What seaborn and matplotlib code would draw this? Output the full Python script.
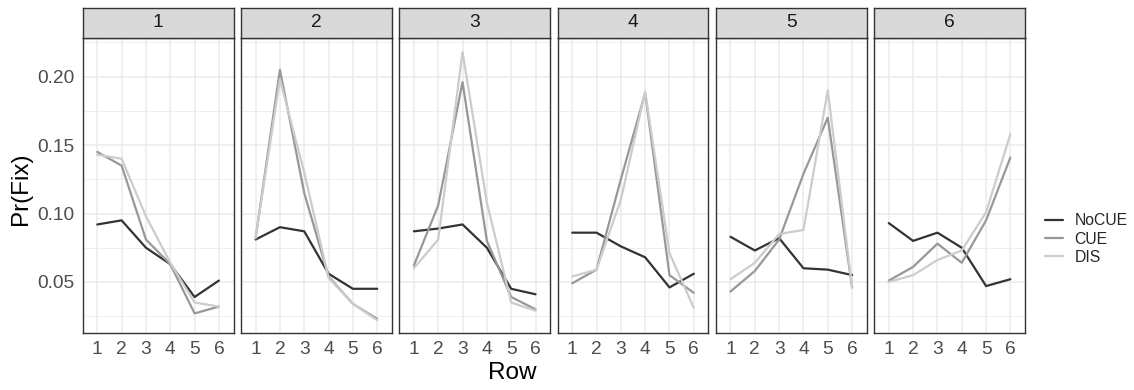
import numpy as np
import pandas as pd
import matplotlib
matplotlib.use("Agg")
import matplotlib.pyplot as plt
from matplotlib.ticker import FixedLocator
from matplotlib.lines import Line2D
import seaborn as sns

sns.set_theme(style="white")
plt.rcParams['font.family'] = ['Liberation Sans', 'DejaVu Sans']

rows = [1, 2, 3, 4, 5, 6]
panels = [1, 2, 3, 4, 5, 6]
conditions = ["NoCUE", "CUE", "DIS"]

nocue = {
    1: [0.092, 0.095, 0.075, 0.063, 0.039, 0.051],
    2: [0.081, 0.090, 0.087, 0.056, 0.045, 0.045],
    3: [0.087, 0.089, 0.092, 0.075, 0.045, 0.041],
    4: [0.086, 0.086, 0.076, 0.068, 0.046, 0.056],
    5: [0.083, 0.073, 0.082, 0.060, 0.059, 0.055],
    6: [0.093, 0.080, 0.086, 0.075, 0.047, 0.052],
}
cue = {
    1: [0.145, 0.135, 0.081, 0.063, 0.027, 0.032],
    2: [0.082, 0.205, 0.115, 0.054, 0.034, 0.023],
    3: [0.062, 0.106, 0.196, 0.080, 0.039, 0.030],
    4: [0.049, 0.059, 0.125, 0.188, 0.055, 0.042],
    5: [0.043, 0.058, 0.081, 0.129, 0.170, 0.046],
    6: [0.051, 0.061, 0.078, 0.064, 0.095, 0.141],
}
dis = {
    1: [0.143, 0.140, 0.098, 0.064, 0.035, 0.032],
    2: [0.082, 0.198, 0.130, 0.053, 0.034, 0.022],
    3: [0.060, 0.081, 0.218, 0.108, 0.035, 0.029],
    4: [0.054, 0.059, 0.110, 0.189, 0.071, 0.031],
    5: [0.052, 0.064, 0.085, 0.088, 0.190, 0.046],
    6: [0.050, 0.055, 0.066, 0.073, 0.101, 0.158],
}

recs = []
for p in panels:
    for cond, src in zip(conditions, [nocue, cue, dis]):
        for r, v in zip(rows, src[p]):
            recs.append({"panel": p, "Row": r, "cond": cond, "PrFix": v})
df = pd.DataFrame(recs)

palette = {"NoCUE": "#333333", "CUE": "#989898", "DIS": "#CCCCCC"}

W, H = 1134, 390
fig = plt.figure(figsize=(W / 100, H / 100), dpi=100)

left0 = 82.7
pw = 150.8
pitch = 158.3
ptop = 37.5
pbot = 333.0
stop = 7.5

ylo, yhi = 0.0127, 0.2286

for i, p in enumerate(panels):
    x0 = left0 + i * pitch
    ax = fig.add_axes([x0 / W, (H - pbot) / H, pw / W, (pbot - ptop) / H])
    ax.set_facecolor("white")
    sub = df[df.panel == p]
    ax.yaxis.set_minor_locator(FixedLocator([0.025, 0.075, 0.125, 0.175, 0.225]))
    ax.set_yticks([0.05, 0.10, 0.15, 0.20])
    ax.set_xticks(rows)
    ax.grid(True, which="major", color="#EBEBEB", linewidth=1.1, zorder=0)
    ax.grid(True, which="minor", axis="y", color="#EBEBEB", linewidth=0.6, zorder=0)
    ax.set_axisbelow(True)
    sns.lineplot(data=sub, x="Row", y="PrFix", hue="cond", hue_order=conditions,
                 palette=palette, linewidth=1.6, ax=ax, legend=False, zorder=3)
    ax.set_xlim(0.4, 6.6)
    ax.set_ylim(ylo, yhi)
    ax.set_xlabel("")
    ax.set_ylabel("")
    for s in ax.spines.values():
        s.set_color("#333333")
        s.set_linewidth(1.0)
    ax.tick_params(axis="both", which="major", length=4, width=1.0, color="#333333",
                   labelcolor="#4D4D4D", labelsize=13.8, pad=2)
    ax.tick_params(axis="both", which="minor", length=0)
    ax.set_xticklabels([str(r) for r in rows])
    if i == 0:
        ax.set_yticklabels(["0.05", "0.10", "0.15", "0.20"])
    else:
        ax.tick_params(axis="y", which="major", length=0, labelleft=False)
    # strip
    sax = fig.add_axes([x0 / W, (H - ptop) / H, pw / W, (ptop - stop) / H])
    sax.set_facecolor("#D9D9D9")
    sax.set_xticks([])
    sax.set_yticks([])
    for s in sax.spines.values():
        s.set_color("#333333")
        s.set_linewidth(1.0)
    sax.text(0.5, 0.5, str(p), ha="center", va="center", fontsize=13.8,
             color="#1A1A1A", transform=sax.transAxes)

fig.text(21 / W, (H - 189) / H, "Pr(Fix)", rotation=90, ha="center", va="center",
         fontsize=17.5, color="black")
fig.text((left0 + (5 * pitch + pw)) / 2 / W, (H - 373) / H, "Row",
         ha="center", va="center", fontsize=17.5, color="black")

handles = [Line2D([0], [0], color=palette[c], linewidth=1.6) for c in conditions]
fig.legend(handles, conditions, loc="center left",
           bbox_to_anchor=(1039 / W, (H - 239) / H), frameon=False,
           fontsize=11.3, handlelength=1.1, handletextpad=0.75,
           labelspacing=0.2, borderaxespad=0)

fig.savefig("out.png", dpi=100)
